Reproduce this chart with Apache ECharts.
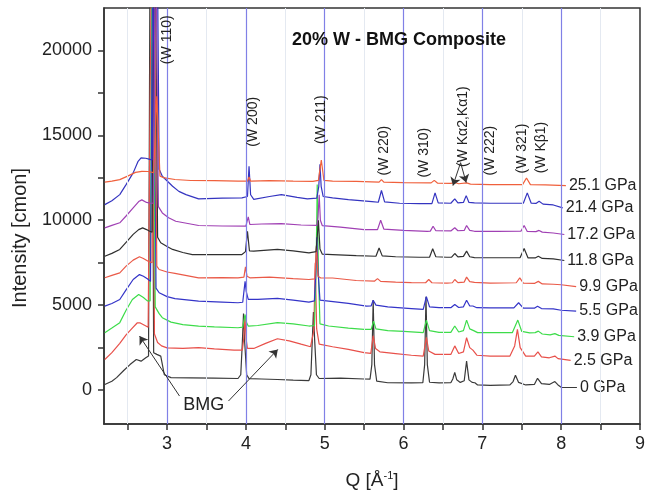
<!DOCTYPE html>
<html><head><meta charset="utf-8">
<script src="https://cdn.jsdelivr.net/npm/echarts@6/dist/echarts.min.js"></script>
<style>html,body{margin:0;padding:0;background:#fff}#c{width:648px;height:495px}</style>
</head><body><div id="c"></div>
<script>
// ---------- data (Q [1/Å], intensity) ----------
const seriesNames = ['0 GPa','2.5 GPa','3.9 GPa','5.5 GPa','9.9 GPa','11.8 GPa','17.2 GPa','21.4 GPa','25.1 GPa'];
const seriesColors = ['#3a3a3a','#e8504a','#3ddc4a','#3434c8','#ea5a48','#303030','#a040b4','#3434c0','#f0603c'];

const p00 = [[2.21,330],[2.30,520],[2.36,730],[2.45,1150],[2.53,1500],[2.61,1800],[2.67,1700],[2.73,1900],[2.765,2000],[2.795,40000],[2.83,2200],[2.87,2100],[2.92,2000],[2.965,900],[3.05,730],[3.3,720],[3.6,700],[3.9,680],[3.935,900],[3.955,2800],[3.97,4500],[3.985,2800],[4.01,900],[4.04,670],[4.2,650],[4.4,620],[4.6,580],[4.8,560],[4.825,900],[4.843,3000],[4.857,4600],[4.872,3000],[4.895,900],[4.93,680],[5.2,700],[5.5,650],[5.575,640],[5.598,1500],[5.615,5300],[5.632,1500],[5.66,520],[5.8,430],[6.1,420],[6.245,430],[6.268,1500],[6.285,5500],[6.302,1500],[6.33,460],[6.45,420],[6.6,430],[6.625,650],[6.65,1040],[6.675,600],[6.72,450],[6.77,550],[6.80,1700],[6.83,600],[6.87,450],[6.905,430],[6.94,300],[7.1,280],[7.35,300],[7.39,500],[7.42,870],[7.46,450],[7.55,300],[7.66,330],[7.70,690],[7.75,380],[7.85,330],[7.92,500],[7.96,300],[8.0,160],[8.2,150]];
const p25 = [[2.21,1800],[2.30,2200],[2.40,2750],[2.48,3250],[2.55,3600],[2.62,3950],[2.66,3950],[2.72,3800],[2.76,3700],[2.785,3800],[2.81,30000],[2.84,3300],[2.88,2800],[2.93,2600],[3.0,2480],[3.2,2450],[3.4,2500],[3.6,2420],[3.85,2350],[3.955,2350],[3.972,3000],[3.988,4350],[4.003,3000],[4.02,2450],[4.1,2450],[4.25,2750],[4.4,3020],[4.55,2900],[4.7,2700],[4.82,2550],[4.862,3500],[4.88,7500],[4.898,3600],[4.93,2700],[5.1,2550],[5.3,2400],[5.5,2200],[5.585,2160],[5.615,3200],[5.645,2450],[5.7,2250],[5.9,2150],[6.1,2050],[6.25,2000],[6.29,3100],[6.32,2300],[6.4,2100],[6.6,2100],[6.65,2600],[6.7,2150],[6.76,2250],[6.80,3080],[6.84,2500],[6.88,2350],[6.93,2050],[7.1,2000],[7.35,2000],[7.41,2600],[7.445,3570],[7.48,2500],[7.55,2000],[7.66,2000],[7.705,2250],[7.75,1950],[7.85,1900],[7.92,2000],[7.96,1850],[8.12,1750]];
const p39 = [[2.21,3380],[2.30,3650],[2.40,3970],[2.48,4700],[2.56,5330],[2.64,5630],[2.70,5450],[2.75,5250],[2.785,5250],[2.815,28000],[2.85,4900],[2.90,4500],[2.94,4260],[3.05,4000],[3.2,3850],[3.4,3770],[3.6,3720],[3.9,3670],[3.96,3700],[3.975,4100],[3.99,4450],[4.005,4000],[4.03,3770],[4.15,3800],[4.4,3970],[4.6,3900],[4.8,3770],[4.87,3800],[4.89,7000],[4.905,12100],[4.92,7000],[4.94,3900],[5.05,3770],[5.3,3650],[5.5,3570],[5.59,3570],[5.62,4060],[5.65,3600],[5.8,3500],[6.0,3450],[6.25,3380],[6.29,4120],[6.33,3500],[6.45,3400],[6.6,3400],[6.65,3770],[6.7,3420],[6.76,3500],[6.80,4120],[6.84,3600],[6.89,3500],[6.94,3380],[7.1,3380],[7.38,3380],[7.45,4120],[7.5,3450],[7.6,3370],[7.67,3380],[7.71,3470],[7.76,3300],[7.86,3250],[7.92,3320],[7.97,3220],[8.165,3140]];
const p55 = [[2.21,4940],[2.30,5100],[2.40,5330],[2.48,5900],[2.57,6510],[2.65,6800],[2.70,6700],[2.75,6550],[2.79,6400],[2.825,30000],[2.86,6000],[2.90,5730],[3.0,5500],[3.1,5380],[3.4,5240],[3.7,5180],[3.9,5140],[3.96,5170],[3.975,5800],[3.99,6400],[4.005,5800],[4.03,5340],[4.15,5340],[4.4,5400],[4.6,5300],[4.8,5180],[4.87,5250],[4.888,7000],[4.90,9000],[4.915,7000],[4.94,5300],[5.05,5240],[5.3,5100],[5.53,4940],[5.59,4960],[5.615,5290],[5.65,5000],[5.8,4900],[6.1,4800],[6.25,4750],[6.29,5500],[6.33,4900],[6.45,4850],[6.6,4850],[6.65,5040],[6.7,4860],[6.76,4900],[6.80,5290],[6.84,4950],[6.88,4950],[6.93,4850],[7.1,4840],[7.4,4840],[7.46,5140],[7.52,4830],[7.66,4820],[7.70,4940],[7.75,4800],[7.9,4780],[8.0,4700],[8.19,4650]];
const p99 = [[2.21,6610],[2.30,6750],[2.40,6900],[2.48,7300],[2.57,7650],[2.65,7850],[2.70,7750],[2.76,7590],[2.81,7500],[2.835,26000],[2.87,7300],[2.90,7100],[3.0,6950],[3.1,6870],[3.4,6610],[3.7,6620],[3.9,6610],[3.975,6650],[3.995,7250],[4.015,6700],[4.05,6610],[4.3,6650],[4.6,6560],[4.8,6510],[4.875,6550],[4.895,8500],[4.915,6700],[4.95,6600],[5.1,6600],[5.4,6450],[5.63,6410],[5.67,6560],[5.71,6400],[5.9,6350],[6.1,6330],[6.28,6320],[6.32,6510],[6.36,6320],[6.55,6300],[6.62,6320],[6.65,6510],[6.69,6330],[6.77,6360],[6.80,6650],[6.84,6380],[6.9,6340],[7.1,6300],[7.43,6320],[7.475,6610],[7.52,6300],[7.66,6280],[7.71,6400],[7.76,6250],[7.9,6230],[8.0,6200],[8.19,6090]];
const p118 = [[2.21,7880],[2.30,8050],[2.40,8280],[2.48,8700],[2.57,9170],[2.64,9450],[2.69,9550],[2.74,9450],[2.78,9350],[2.81,9300],[2.845,30000],[2.88,9000],[2.92,8670],[3.0,8450],[3.07,8280],[3.2,8100],[3.32,7980],[3.6,7980],[3.95,7980],[3.995,8150],[4.02,9350],[4.045,8200],[4.1,8180],[4.4,8280],[4.6,8200],[4.8,8080],[4.89,8150],[4.905,9000],[4.92,10000],[4.94,8300],[4.97,8000],[5.1,7980],[5.4,7920],[5.65,7880],[5.69,8370],[5.73,7900],[5.9,7850],[6.2,7820],[6.33,7820],[6.37,8320],[6.41,7850],[6.55,7820],[6.61,7830],[6.65,8040],[6.69,7840],[6.76,7870],[6.80,8180],[6.84,7850],[6.9,7800],[7.1,7790],[7.48,7800],[7.53,8330],[7.58,7780],[7.67,7780],[7.71,7880],[7.76,7750],[7.9,7720],[8.04,7630]];
const p172 = [[2.21,9550],[2.30,9700],[2.40,9850],[2.48,10250],[2.57,10730],[2.64,11100],[2.68,11200],[2.74,11050],[2.79,11000],[2.825,11000],[2.855,28000],[2.89,10800],[2.94,10430],[3.02,10150],[3.11,9940],[3.4,9690],[3.7,9660],[4.0,9650],[4.015,9700],[4.03,10200],[4.05,9750],[4.2,9780],[4.45,9800],[4.7,9720],[4.9,9700],[4.915,10200],[4.93,11500],[4.945,10000],[4.97,9680],[5.2,9600],[5.5,9450],[5.67,9450],[5.71,10000],[5.75,9480],[6.0,9400],[6.3,9350],[6.34,9360],[6.375,9650],[6.41,9380],[6.6,9370],[6.65,9560],[6.69,9380],[6.77,9400],[6.80,9690],[6.84,9400],[6.9,9350],[7.2,9350],[7.49,9360],[7.53,9690],[7.57,9340],[7.68,9330],[7.72,9400],[7.76,9300],[7.9,9250],[8.04,9160]];
const p214 = [[2.21,10920],[2.30,11150],[2.40,11510],[2.48,12100],[2.57,12790],[2.63,13450],[2.67,13670],[2.73,13650],[2.77,13600],[2.81,13550],[2.86,35000],[2.90,13000],[2.94,12590],[3.07,12000],[3.15,11700],[3.24,11510],[3.4,11260],[3.7,11300],[3.95,11320],[4.02,11400],[4.04,13180],[4.06,11500],[4.1,11230],[4.3,11400],[4.45,11510],[4.65,11350],[4.78,11260],[4.9,11300],[4.925,12000],[4.94,13300],[4.955,12000],[4.98,11400],[5.1,11320],[5.3,11220],[5.6,11100],[5.68,11060],[5.72,11750],[5.76,11080],[5.95,11000],[6.2,10980],[6.36,10980],[6.40,11610],[6.44,11020],[6.6,11000],[6.65,11260],[6.69,11020],[6.76,11050],[6.795,11450],[6.83,11050],[6.9,11020],[7.1,11000],[7.4,11000],[7.52,11000],[7.57,11610],[7.62,11000],[7.68,10990],[7.72,11120],[7.77,10950],[7.9,10900],[8.02,10730]];
const p251 = [[2.21,12240],[2.30,12300],[2.40,12390],[2.50,12600],[2.60,12820],[2.68,12880],[2.76,12870],[2.83,12800],[2.87,17300],[2.91,12600],[2.97,12490],[3.1,12400],[3.3,12340],[3.6,12330],[3.9,12300],[4.02,12300],[4.04,12550],[4.06,12300],[4.3,12330],[4.6,12300],[4.85,12290],[4.92,12350],[4.957,13550],[4.99,12350],[5.1,12300],[5.4,12290],[5.69,12240],[5.72,12390],[5.75,12240],[6.0,12220],[6.35,12200],[6.39,12350],[6.43,12190],[6.6,12170],[6.65,12220],[6.7,12150],[6.8,12200],[6.85,12130],[7.1,12100],[7.51,12100],[7.56,12490],[7.61,12100],[7.8,12080],[8.06,12040]];
const seriesData = [p00,p25,p39,p55,p99,p118,p172,p214,p251];

// axes
const xLabelValues = [3,4,5,6,7,8,9];
const xTickValues = [2.5,3,3.5,4,4.5,5,5.5,6,6.5,7,7.5,8,8.5,9];
const yLabelValues = [0,5000,10000,15000,20000];
const yTickValues = [0,2500,5000,7500,10000,12500,15000,17500,20000];
const gridQ = [3,4,5,6,7,8];
const minorGridQ = [2.5,3.5,4.5,5.5,6.5,7.5,8.5];

// annotations (data coordinates)
const peakLabels = ['(W 110)','(W 200)','(W 211)','(W 220)','(W 310)','(W K\u03b12,K\u03b11)','(W 222)','(W 321)','(W K\u03b21)'];
const peakLabelQ = [3.0, 4.092, 4.957, 5.759, 6.26, 6.761, 7.1, 7.5, 7.75];
const peakLabelI = [20630, 15800, 15920, 14100, 13980, 15510, 14100, 14220, 14280];
const bmgText = {text:'BMG', q:3.466, i:-900};
const arrows = [
  [[3.158,-353],[2.651,3176]],
  [[3.779,-647],[4.405,2394]],
  [[6.724,13390],[6.627,12040]],
  [[6.724,13390],[6.795,12220]]
];

const FONT = '"Liberation Sans", Arial, Helvetica, sans-serif';
const chart = echarts.init(document.getElementById('c'), null, {renderer:'canvas'});

const series = seriesNames.map((n, k) => ({
  name: n, type: 'line', data: seriesData[k], showSymbol: false, symbol: 'none',
  clip: true, z: 3, silent: true, emphasis: {disabled: true},
  lineStyle: {color: seriesColors[k], width: 1.2},
  endLabel: {show: true, formatter: '{a}', fontSize: 16, fontFamily: FONT, color: '#222', distance: 3}
}));
series.push({
  type: 'line', data: [], z: 1, silent: true,
  markLine: {silent: true, symbol: ['none','none'], label: {show: false}, animation: false,
    lineStyle: {color: '#e4e9f1', width: 1, type: 'solid'},
    data: minorGridQ.map(q => ({xAxis: q}))}
});
series.push({
  type: 'line', data: [], z: 2, silent: true,
  markLine: {silent: true, symbol: ['none','none'], label: {show: false}, animation: false,
    lineStyle: {color: '#8080e6', width: 1.2, type: 'solid'},
    data: gridQ.map(q => ({xAxis: q}))}
});
series.push({
  type: 'line', data: [], z: 4, silent: true,
  markLine: {silent: true, symbol: ['none','arrow'], symbolSize: 8, label: {show: false}, animation: false,
    lineStyle: {color: '#333', width: 1, type: 'solid'},
    data: arrows.map(a => [{coord: a[0]}, {coord: a[1]}])}
});

const option = {
  animation: false,
  backgroundColor: '#fff',
  title: {text: '20% W - BMG Composite', left: 287, top: 26,
    textStyle: {fontFamily: FONT, fontSize: 18, fontWeight: 'bold', color: '#111'}},
  grid: {left: 104, right: 1.3, top: 8, bottom: 70, show: true, borderColor: '#333', borderWidth: 1.5},
  xAxis: {
    type: 'value', min: 2.2, max: 9,
    axisLine: {show: true, onZero: false, lineStyle: {color: '#333', width: 1.5}},
    axisTick: {show: true, inside: false, length: 6, customValues: xTickValues, lineStyle: {color: '#333', width: 1.5}},
    axisLabel: {customValues: xLabelValues, fontSize: 18, fontFamily: FONT, color: '#222', margin: 11,
      formatter: v => String(v)},
    splitLine: {show: false},
    name: 'Q [\u00c5{s|-1}]', nameLocation: 'middle', nameGap: 46,
    nameTextStyle: {fontSize: 19, fontFamily: FONT, color: '#222',
      rich: {s: {fontSize: 11, fontFamily: FONT, color: '#222', verticalAlign: 'top', padding: [0, 0, 10, 0]}}}
  },
  yAxis: {
    type: 'value', min: -2000, max: 22500,
    axisLine: {show: true, onZero: false, lineStyle: {color: '#333', width: 1.5}},
    axisTick: {show: true, inside: false, length: 6, customValues: yTickValues, lineStyle: {color: '#333', width: 1.5}},
    axisLabel: {customValues: yLabelValues, fontSize: 18, fontFamily: FONT, color: '#222', margin: 12,
      formatter: v => String(v)},
    splitLine: {show: false}
  },
  series: series
};
chart.setOption(option);

const g = [];
peakLabels.forEach((t, k) => {
  const p = chart.convertToPixel({gridIndex: 0}, [peakLabelQ[k], peakLabelI[k]]);
  g.push({type: 'text', x: p[0], y: p[1], rotation: Math.PI / 2, z: 10,
    style: {text: t, fontSize: 14, fontFamily: FONT, fill: '#222', align: 'center', verticalAlign: 'middle'}});
});
const bp = chart.convertToPixel({gridIndex: 0}, [bmgText.q, bmgText.i]);
g.push({type: 'text', x: bp[0], y: bp[1], z: 10,
  style: {text: bmgText.text, fontSize: 18, fontFamily: FONT, fill: '#222', align: 'center', verticalAlign: 'middle'}});
g.push({type: 'text', x: 20, y: 238, rotation: Math.PI / 2, z: 10,
  style: {text: 'Intensity [cmon]', fontSize: 20, fontFamily: FONT, fill: '#222', align: 'center', verticalAlign: 'middle'}});
chart.setOption({graphic: g});
</script></body></html>
